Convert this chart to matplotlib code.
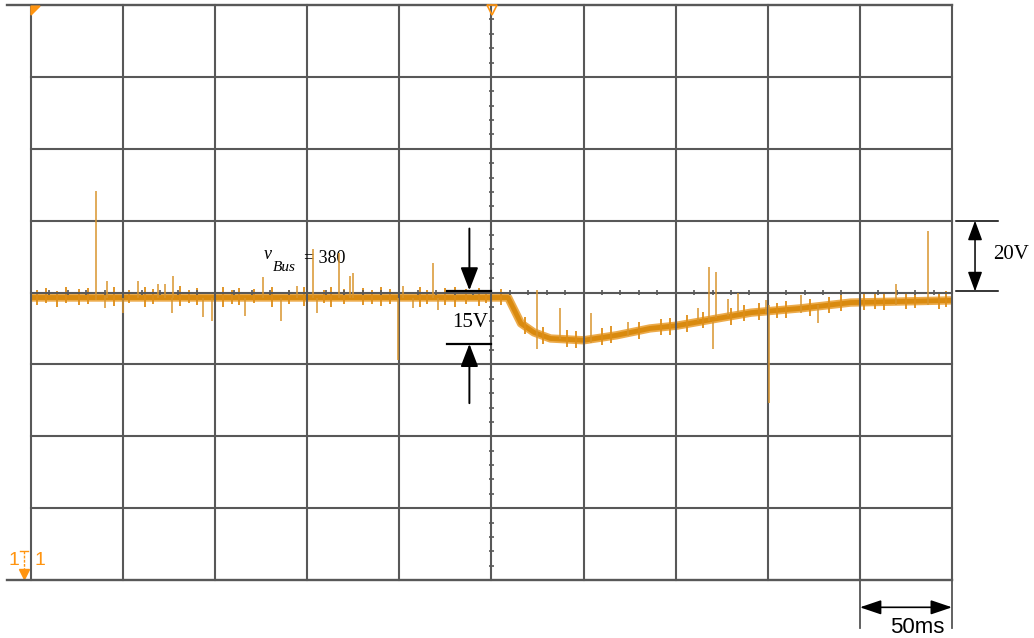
import matplotlib
matplotlib.use('Agg')
import matplotlib.pyplot as plt
import numpy as np

# bus voltage trace (time in ms, voltage in V)
trace_t = [0, 259, 266, 273, 282, 300, 318, 336, 351, 373, 391, 418, 445, 500]
trace_v = [378.6, 378.6, 371.4, 368.9, 367.2, 366.7, 368.1, 370.0, 370.8,
           372.8, 374.4, 375.6, 377.2, 377.8]

# switching glitches on the trace: time, low end, high end
spike_t = [35.3, 40.2, 41.3, 50.0, 58.2, 69.0, 72.8, 76.6, 77.2, 93.5, 98.4,
           116.3, 126.1, 135.9, 144.6, 153.3, 155.4, 167.4, 173.4, 175.0,
           199.3, 202.2, 207.6, 218.5, 220.7, 274.5, 287.0, 303.8, 324.0,
           362.0, 368.0, 370.1, 371.8, 378.3, 383.7, 398.9, 400.8, 417.9,
           427.2, 469.6, 487.0]
spike_lo = [377.8, 375.6, 378.6, 374.2, 378.6, 378.6, 378.6, 374.4, 378.6,
            373.1, 372.2, 373.6, 378.6, 372.2, 378.6, 378.6, 374.4, 378.6,
            378.6, 378.6, 361.1, 378.6, 375.8, 378.6, 375.0, 364.4, 367.2,
            366.0, 368.0, 372.0, 372.2, 364.4, 372.8, 373.6, 374.4, 374.4,
            349.2, 374.4, 371.4, 376.4, 376.4]
spike_hi = [408.3, 379.0, 383.3, 378.6, 383.3, 382.5, 382.5, 378.6, 384.7,
            378.6, 378.6, 378.6, 384.2, 378.6, 381.9, 392.2, 378.6, 391.1,
            384.7, 385.3, 378.6, 381.9, 378.6, 388.3, 378.6, 380.6, 375.8,
            374.2, 371.7, 375.8, 387.2, 372.2, 385.6, 378.3, 380.0, 377.8,
            376.4, 379.2, 376.4, 382.5, 397.0]

# small noise ripple around the trace: time, low end, high end
fuzz_t = [3, 8, 14, 19, 26, 31, 45, 53, 62, 66, 81, 86, 90, 104, 109, 113,
          121, 131, 140, 148, 159, 163, 170, 180, 185, 190, 195, 211, 215,
          225, 230, 236, 243, 247, 255,
          268, 278, 291, 296, 310, 315, 330, 342, 347, 356, 365, 380, 387,
          395, 405, 410, 423, 433, 440, 452, 458, 463, 475, 480, 493, 497]
fuzz_lo = [376.5, 377.2, 376.0, 377.0, 376.4, 376.8, 376.2, 377.1, 376.0,
           376.9, 376.3, 377.2, 376.6, 376.0, 376.9, 376.4, 377.0, 376.1,
           376.8, 376.3, 377.1, 376.0, 376.7, 376.4, 376.9, 376.2, 376.8,
           376.1, 376.9, 376.5, 376.0, 376.8, 376.3, 377.0, 376.6,
           368.4, 365.6, 364.8, 364.6, 365.4, 365.9, 367.0, 368.2, 368.3,
           369.0, 370.0, 371.0, 372.0, 372.3, 372.8, 373.0, 373.6, 374.3,
           374.8, 375.0, 375.4, 375.1, 375.3, 375.6, 375.4, 375.9]
fuzz_hi = [380.8, 381.3, 380.5, 381.6, 380.9, 381.2, 381.5, 380.6, 381.4,
           380.9, 381.7, 380.8, 381.2, 381.5, 380.7, 381.3, 380.9, 381.6,
           380.8, 381.4, 380.7, 381.5, 381.0, 381.3, 380.8, 381.6, 380.9,
           381.4, 380.8, 381.2, 381.6, 380.9, 381.3, 380.7, 381.1,
           373.2, 370.4, 369.6, 369.2, 370.0, 370.6, 371.8, 372.6, 373.0,
           373.8, 374.6, 375.8, 376.6, 377.0, 377.2, 377.6, 378.3, 378.8,
           379.2, 379.6, 379.9, 380.1, 379.8, 380.2, 379.9, 380.3]

ORANGE = '#FF9410'
TRACE = '#D98A0F'
GRID = '#585858'

fig = plt.figure(figsize=(10.34, 6.38), dpi=100)
ax = fig.add_axes([31 / 1034, 1 - 580 / 638, 921 / 1034, 575 / 638])
ax.set_xlim(0, 500)
ax.set_ylim(300, 460)
ax.axis('off')

# screen graticule
for t in np.arange(0, 501, 50):
    ax.plot([t, t], [300, 460], color=GRID, lw=1.5, zorder=3, clip_on=False)
for v in np.arange(320, 441, 20):
    ax.plot([0, 500], [v, v], color=GRID, lw=1.5, zorder=3, clip_on=False)
for v in (300, 460):
    ax.plot([-13, 500], [v, v], color=GRID, lw=1.7, zorder=3, clip_on=False)

# minor ticks on the centre axes
tk = np.arange(0, 501, 10)
ax.vlines(tk, 379.2, 380.8, color=GRID, lw=1.2, zorder=3)
tv = np.arange(300, 461, 4)
ax.hlines(tv, 248.4, 251.6, color=GRID, lw=1.2, zorder=3)

# trace
ax.plot(trace_t, trace_v, color='#E8961E', lw=6, alpha=0.8, zorder=2,
        solid_joinstyle='round')
ax.plot(trace_t, trace_v, color=TRACE, lw=3.5, zorder=2.2,
        solid_joinstyle='round')
ax.vlines(fuzz_t, fuzz_lo, fuzz_hi, color='#DE8E18', lw=1.3, zorder=2.3)
ax.vlines(spike_t, spike_lo, spike_hi, color='#D8952E', lw=1.1, zorder=3.5)

# scope markers
ax.fill([0, 4.9, 0], [459.7, 459.7, 457.2], color=ORANGE, zorder=4,
        clip_on=False)
ax.plot(250.5, 458.6, marker='v', ms=7, mfc='none', mec=ORANGE, mew=1.2,
        zorder=4, clip_on=False)
ax.text(-9.5, 305.5, '1', color=ORANGE, fontsize=14, family='Liberation Sans',
        ha='center', va='center', clip_on=False)
ax.text(5.0, 305.5, '1', color=ORANGE, fontsize=14, family='Liberation Sans',
        ha='center', va='center', clip_on=False)
ax.plot([-6.0, -1.6], [308.2, 308.2], color=ORANGE, lw=1.0, clip_on=False)
ax.plot([-3.8, -3.8], [308.2, 302.5], color=ORANGE, lw=1.0, ls=(0, (2, 1)),
        clip_on=False)
ax.plot(-3.8, 301.6, marker='v', ms=7, color=ORANGE, clip_on=False)

serif = 'Liberation Serif'

# vBus label
ax.text(126.1, 389.4, 'v', fontsize=13, family=serif, style='italic',
        va='baseline')
ax.text(131.5, 386.1, 'Bus', fontsize=11, family=serif, style='italic',
        va='baseline')
ax.text(148.4, 388.3, '= 380', fontsize=13, family=serif, va='baseline')

# 15V dip markers
ax.plot([226.1, 249.5], [380.5, 380.5], color='k', lw=1.6, zorder=4)
ax.plot([226.1, 249.5], [365.8, 365.8], color='k', lw=1.6, zorder=4)
head = dict(color='k', lw=1.4, shrinkA=0, shrinkB=0, mutation_scale=20)
ax.annotate('', xy=(238, 380.6), xytext=(238, 397.8),
            arrowprops=dict(arrowstyle='-|>,head_length=0.7,head_width=0.27',
                            **head))
ax.annotate('', xy=(238, 365.7), xytext=(238, 349.2),
            arrowprops=dict(arrowstyle='-|>,head_length=0.7,head_width=0.27',
                            **head))
ax.text(228.6, 370.3, '15V', fontsize=15, family=serif, va='baseline')

# 20V scale marker
ax.plot([502.2, 525], [400, 400], color='k', lw=1.1, clip_on=False)
ax.plot([502.2, 525], [380.3, 380.3], color='k', lw=1.1, clip_on=False)
ax.annotate('', xy=(512.5, 400), xytext=(512.5, 380.3), annotation_clip=False,
            arrowprops=dict(arrowstyle='<|-|>,head_length=0.6,head_width=0.22',
                            color='k', lw=1.1, shrinkA=0, shrinkB=0,
                            mutation_scale=20))
ax.text(522.3, 389.4, '20V', fontsize=15, family=serif, va='baseline')

# 50ms scale marker
ax.plot([450, 450], [300, 286.7], color='#555555', lw=1.3, clip_on=False)
ax.plot([500, 500], [300, 286.7], color='#555555', lw=1.3, clip_on=False)
ax.annotate('', xy=(450, 292.4), xytext=(500, 292.4), annotation_clip=False,
            arrowprops=dict(arrowstyle='<|-|>,head_length=0.65,head_width=0.22',
                            color='k', lw=1.2, shrinkA=0, shrinkB=0,
                            mutation_scale=20))
ax.text(481, 285.3, '50ms', fontsize=16, family='Liberation Sans',
        ha='center', va='baseline')

fig.savefig('out.png', dpi=100)
plt.close(fig)
